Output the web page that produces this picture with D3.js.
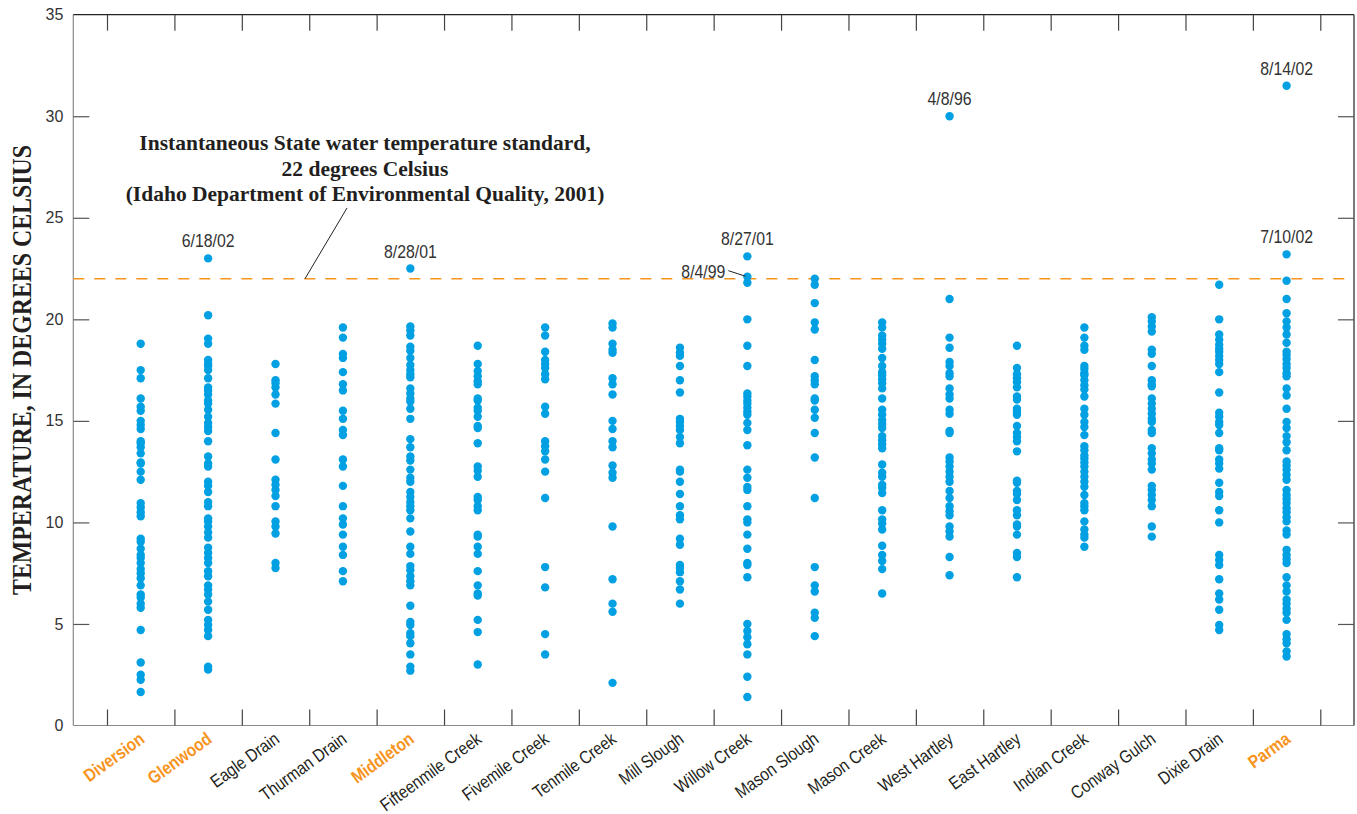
<!DOCTYPE html>
<html>
<head>
<meta charset="utf-8">
<script src="https://cdn.jsdelivr.net/npm/d3@7"></script>
<style>
  html, body { margin: 0; padding: 0; background: #fff; }
  svg { display: block; }
  .cond { font-family: "Liberation Sans", Arial, sans-serif; }
</style>
</head>
<body>
<svg id="chart" width="1357" height="814"></svg>
<script>
// ---------------- DATA ----------------
const categories = ["Diversion", "Glenwood", "Eagle Drain", "Thurman Drain", "Middleton",
  "Fifteenmile Creek", "Fivemile Creek", "Tenmile Creek", "Mill Slough", "Willow Creek",
  "Mason Slough", "Mason Creek", "West Hartley", "East Hartley", "Indian Creek",
  "Conway Gulch", "Dixie Drain", "Parma"];
const highlighted = ["Diversion", "Glenwood", "Middleton", "Parma"];
const yTickValues = [0, 5, 10, 15, 20, 25, 30, 35];
const standardValue = 22;

const diversion = [18.8, 17.5, 17.1, 16.1, 15.7, 15.5, 15.0, 14.8, 14.6, 14.0, 13.9, 13.7, 13.4, 12.95, 12.9, 12.5, 12.1, 10.95, 10.75, 10.5, 10.3, 9.2, 9.05, 8.7, 8.4, 8.25, 8.0, 7.7, 7.5, 7.25, 6.9, 6.45, 6.3, 6.0, 5.8, 4.7, 3.1, 2.5, 2.25, 1.65];
const glenwood = [23.0, 20.2, 19.05, 18.8, 18.0, 17.8, 17.7, 17.5, 17.1, 16.65, 16.5, 16.3, 16.0, 15.85, 15.55, 15.2, 14.9, 14.7, 14.5, 14.0, 13.25, 12.9, 12.75, 12.0, 11.8, 11.5, 11.0, 10.8, 10.2, 10.05, 9.8, 9.5, 9.25, 8.75, 8.5, 8.25, 8.0, 7.6, 7.35, 6.9, 6.7, 6.45, 6.1, 5.7, 5.2, 4.95, 4.7, 4.4, 2.9, 2.75];
const eagleDrain = [17.8, 17.0, 16.85, 16.65, 16.3, 15.85, 14.4, 13.1, 12.1, 11.85, 11.6, 11.3, 10.8, 10.05, 9.8, 9.45, 8.0, 7.75];
const thurmanDrain = [19.6, 19.1, 18.3, 18.1, 17.4, 16.8, 16.5, 15.5, 15.1, 14.55, 14.3, 13.1, 12.75, 11.8, 10.8, 10.2, 9.9, 9.4, 8.8, 8.4, 7.6, 7.1];
const middleton = [22.5, 19.65, 19.45, 19.2, 18.65, 18.45, 18.1, 17.75, 17.5, 17.3, 17.15, 16.6, 16.35, 16.1, 15.95, 15.6, 15.1, 14.1, 13.7, 13.25, 13.05, 12.6, 12.2, 12.0, 11.5, 11.25, 11.0, 10.8, 10.6, 10.2, 9.55, 8.8, 8.45, 7.85, 7.65, 7.35, 7.1, 6.9, 5.9, 5.1, 4.95, 4.55, 4.4, 4.05, 3.5, 2.9, 2.7];
const fifteenmileCreek = [18.7, 17.8, 17.45, 17.2, 16.95, 16.8, 16.1, 16.0, 15.65, 15.5, 15.2, 14.75, 14.65, 13.9, 12.75, 12.55, 12.25, 11.25, 11.1, 10.8, 10.6, 9.4, 9.3, 8.8, 8.45, 7.6, 6.9, 6.5, 6.4, 5.2, 4.6, 3.0];
const fivemileCreek = [19.6, 19.2, 18.4, 18.0, 17.8, 17.6, 17.3, 17.05, 15.7, 15.35, 14.0, 13.75, 13.5, 13.1, 12.5, 11.2, 7.8, 6.8, 4.5, 3.5];
const tenmileCreek = [19.8, 19.6, 18.8, 18.5, 18.35, 17.1, 16.8, 16.3, 15.0, 14.6, 14.0, 13.7, 12.8, 12.45, 12.2, 9.8, 7.2, 6.0, 5.6, 2.1];
const millSlough = [18.6, 18.35, 18.2, 17.7, 17.0, 16.4, 15.1, 14.95, 14.75, 14.55, 14.2, 13.9, 12.6, 12.5, 12.0, 11.4, 10.8, 10.35, 10.15, 9.2, 8.9, 7.9, 7.75, 7.55, 7.1, 6.7, 6.0];
const willowCreek = [23.1, 22.1, 21.8, 20.0, 18.7, 17.7, 16.35, 16.2, 16.0, 15.85, 15.65, 15.45, 15.3, 14.9, 14.55, 13.8, 12.6, 12.2, 11.75, 11.6, 10.8, 10.15, 10.0, 9.4, 8.7, 8.0, 7.9, 7.3, 5.0, 4.65, 4.35, 4.0, 3.5, 2.4, 1.4];
const masonSlough = [22.0, 21.7, 20.8, 19.85, 19.5, 18.0, 17.2, 17.0, 16.8, 16.1, 16.0, 15.55, 15.15, 14.4, 13.2, 11.2, 7.8, 6.9, 6.6, 5.55, 5.3, 4.4];
const masonCreek = [19.85, 19.6, 19.2, 19.0, 18.8, 18.55, 18.1, 17.7, 17.4, 17.25, 17.05, 16.85, 16.6, 16.1, 15.55, 15.3, 15.05, 14.85, 14.65, 14.25, 14.05, 13.85, 13.65, 12.85, 12.45, 12.25, 11.85, 11.7, 11.45, 10.6, 10.15, 9.95, 9.65, 8.85, 8.4, 8.1, 7.7, 6.5];
const westHartley = [30.0, 21.0, 19.1, 18.6, 17.9, 17.7, 17.35, 17.2, 16.6, 16.3, 16.1, 15.55, 15.35, 14.5, 14.4, 13.2, 13.0, 12.75, 12.5, 12.25, 12.0, 11.55, 11.2, 10.8, 10.55, 10.35, 9.8, 9.55, 9.3, 8.3, 7.4];
const eastHartley = [18.7, 17.6, 17.3, 17.1, 16.9, 16.65, 16.2, 16.05, 15.6, 15.45, 15.3, 14.75, 14.4, 14.2, 14.0, 13.5, 12.05, 11.95, 11.55, 11.4, 11.1, 10.6, 10.35, 9.9, 9.8, 9.4, 8.5, 8.3, 7.3];
const indianCreek = [19.6, 19.1, 18.7, 18.5, 17.7, 17.55, 17.35, 17.25, 17.0, 16.75, 16.55, 16.2, 15.6, 15.3, 14.95, 14.7, 14.3, 13.75, 13.55, 13.3, 13.15, 12.95, 12.75, 12.5, 12.25, 12.0, 11.75, 11.35, 10.95, 10.8, 10.6, 10.05, 9.65, 9.4, 9.25, 8.8];
const conwayGulch = [20.1, 19.9, 19.65, 19.4, 18.5, 18.3, 17.7, 17.0, 16.8, 16.7, 16.1, 15.85, 15.6, 15.35, 15.1, 14.95, 14.55, 14.4, 13.65, 13.4, 13.1, 12.9, 12.6, 11.8, 11.6, 11.35, 11.1, 10.8, 9.8, 9.3];
const dixieDrain = [21.7, 20.0, 19.25, 19.0, 18.75, 18.55, 18.4, 18.2, 18.0, 17.8, 17.4, 16.4, 15.4, 15.2, 14.95, 14.8, 14.4, 13.65, 13.55, 13.1, 12.9, 12.65, 11.95, 11.5, 11.3, 10.6, 10.0, 8.4, 8.15, 7.9, 7.2, 6.5, 6.2, 5.7, 4.95, 4.7];
const parma = [31.5, 23.2, 21.9, 21.0, 20.3, 19.9, 19.6, 19.25, 18.85, 18.4, 18.25, 18.05, 17.8, 17.6, 17.35, 17.2, 16.6, 16.25, 15.6, 14.95, 14.65, 14.25, 13.95, 13.55, 13.0, 12.8, 12.6, 12.35, 12.1, 11.6, 11.35, 11.15, 10.95, 10.7, 10.5, 10.25, 10.05, 9.6, 9.4, 8.65, 8.4, 8.2, 8.0, 7.3, 6.9, 6.6, 6.2, 6.0, 5.75, 5.55, 5.2, 4.5, 4.25, 4.05, 3.65, 3.4];

const seriesValues = [diversion, glenwood, eagleDrain, thurmanDrain, middleton,
  fifteenmileCreek, fivemileCreek, tenmileCreek, millSlough, willowCreek,
  masonSlough, masonCreek, westHartley, eastHartley, indianCreek,
  conwayGulch, dixieDrain, parma];

// dated high readings
const dateLabels = [
  { site: "Glenwood", value: 23.0, label: "6/18/02" },
  { site: "Middleton", value: 22.5, label: "8/28/01" },
  { site: "Willow Creek", value: 23.1, label: "8/27/01" },
  { site: "West Hartley", value: 30.0, label: "4/8/96" },
  { site: "Parma", value: 31.5, label: "8/14/02" },
  { site: "Parma", value: 23.2, label: "7/10/02" }
];
const leaderLabel = { site: "Willow Creek", value: 22.1, label: "8/4/99" };

const annotationLines = [
  "Instantaneous State water temperature standard,",
  "22 degrees Celsius",
  "(Idaho Department of Environmental Quality, 2001)"
];
const yTitle = "TEMPERATURE, IN DEGREES CELSIUS";

// ---------------- LAYOUT ----------------
const svg = d3.select("#chart");
const plotLeft = 73.3, plotRight = 1354, plotTop = 14.7, plotBottom = 725.5;
const dotColor = "#00a0e2";
const orange = "#f7941d";
const textColor = "#231f20";
const condense = 0.85;

const x = d3.scaleLinear().domain([-1, 18]).range([plotLeft, plotRight]);
const y = d3.scaleLinear().domain([0, 35]).range([plotBottom, plotTop]);
const boundaries = d3.range(categories.length + 1).map(i => i - 0.5);

// frame
svg.append("line").attr("x1", plotLeft).attr("x2", plotLeft).attr("y1", plotTop).attr("y2", plotBottom)
  .attr("stroke", "#8a8a8a").attr("stroke-width", 1.2);
svg.append("line").attr("x1", plotLeft).attr("x2", plotRight).attr("y1", plotBottom).attr("y2", plotBottom)
  .attr("stroke", "#8a8a8a").attr("stroke-width", 1.2);
svg.append("line").attr("x1", plotLeft).attr("x2", plotRight).attr("y1", plotTop).attr("y2", plotTop)
  .attr("stroke", "#222").attr("stroke-width", 1.2);
svg.append("line").attr("x1", plotRight).attr("x2", plotRight).attr("y1", plotTop).attr("y2", plotBottom)
  .attr("stroke", "#222").attr("stroke-width", 1.2);

function styleAxis(g, color) {
  g.select(".domain").remove();
  g.selectAll(".tick line").attr("stroke", color).attr("stroke-width", 1.2);
}

// left axis with labels
const leftAxis = svg.append("g").attr("transform", `translate(${plotLeft},0)`)
  .call(d3.axisLeft(y).tickValues(yTickValues).tickSize(-16).tickSizeOuter(0).tickPadding(10)
    .tickFormat(d3.format("d")));
styleAxis(leftAxis, "#555");
leftAxis.selectAll(".tick line").filter(d => d === 0 || d === 35).remove();
leftAxis.selectAll(".tick text")
  .attr("font-family", "'Liberation Sans', Arial, sans-serif")
  .attr("font-size", 16).attr("fill", "#333");

// right axis
const rightAxis = svg.append("g").attr("transform", `translate(${plotRight},0)`)
  .call(d3.axisRight(y).tickValues(yTickValues.filter(d => d > 0 && d < 35)).tickSize(-16).tickFormat(""));
styleAxis(rightAxis, "#555");

// top & bottom axes (category boundaries)
const topAxis = svg.append("g").attr("transform", `translate(0,${plotTop})`)
  .call(d3.axisTop(x).tickValues(boundaries).tickSize(-16).tickFormat(""));
styleAxis(topAxis, "#444");
const bottomAxis = svg.append("g").attr("transform", `translate(0,${plotBottom})`)
  .call(d3.axisBottom(x).tickValues(boundaries).tickSize(-16).tickFormat(""));
styleAxis(bottomAxis, "#444");

// category labels
svg.append("g").selectAll("text").data(categories).join("text")
  .attr("class", "cond")
  .attr("transform", (d, i) => `translate(${x(i) + 5},${plotBottom + 16}) rotate(-36) scale(${condense},1)`)
  .attr("text-anchor", "end")
  .attr("font-size", 18)
  .attr("font-weight", d => highlighted.includes(d) ? "bold" : "normal")
  .attr("fill", d => highlighted.includes(d) ? orange : textColor)
  .text(d => d);

// standard line
svg.append("line")
  .attr("x1", plotLeft).attr("x2", plotRight)
  .attr("y1", y(standardValue)).attr("y2", y(standardValue))
  .attr("stroke", orange).attr("stroke-width", 1.6)
  .attr("stroke-dasharray", "11,10");

// points
const points = [];
seriesValues.forEach((vals, i) => vals.forEach(v => points.push({ i, v })));
svg.append("g").selectAll("circle").data(points).join("circle")
  .attr("cx", d => x(d.i)).attr("cy", d => y(d.v)).attr("r", 4.2)
  .attr("fill", dotColor);

// date labels
svg.append("g").selectAll("text").data(dateLabels).join("text")
  .attr("class", "cond")
  .attr("transform", d => `translate(${x(categories.indexOf(d.site))},${y(d.value) - 11}) scale(0.88,1)`)
  .attr("text-anchor", "middle")
  .attr("font-size", 18).attr("fill", "#333")
  .text(d => d.label);

const lx = x(categories.indexOf(leaderLabel.site));
const ly = y(leaderLabel.value);
svg.append("text").attr("class", "cond")
  .attr("transform", `translate(${lx - 22},${ly + 1}) scale(0.88,1)`)
  .attr("text-anchor", "end").attr("font-size", 18).attr("fill", "#333")
  .text(leaderLabel.label);
svg.append("line").attr("x1", lx - 19).attr("y1", ly - 6).attr("x2", lx - 2).attr("y2", ly - 0.5)
  .attr("stroke", "#222").attr("stroke-width", 1);

// annotation
const ann = svg.append("text")
  .attr("font-family", "'Liberation Serif', 'Times New Roman', serif")
  .attr("font-weight", "bold").attr("font-size", 21.5).attr("fill", textColor)
  .attr("text-anchor", "middle");
annotationLines.forEach((t, k) => {
  ann.append("tspan").attr("x", 365).attr("y", 150 + k * 25.5).text(t);
});
svg.append("line").attr("x1", 347).attr("y1", 208).attr("x2", 305).attr("y2", y(standardValue))
  .attr("stroke", "#222").attr("stroke-width", 1);

// y title
svg.append("text")
  .attr("transform", `translate(31,370) rotate(-90)`)
  .attr("text-anchor", "middle")
  .attr("font-family", "'Liberation Serif', 'Times New Roman', serif")
  .attr("font-weight", "bold").attr("font-size", 27).attr("fill", textColor)
  .attr("textLength", 450).attr("lengthAdjust", "spacingAndGlyphs")
  .text(yTitle);
</script>
</body>
</html>
